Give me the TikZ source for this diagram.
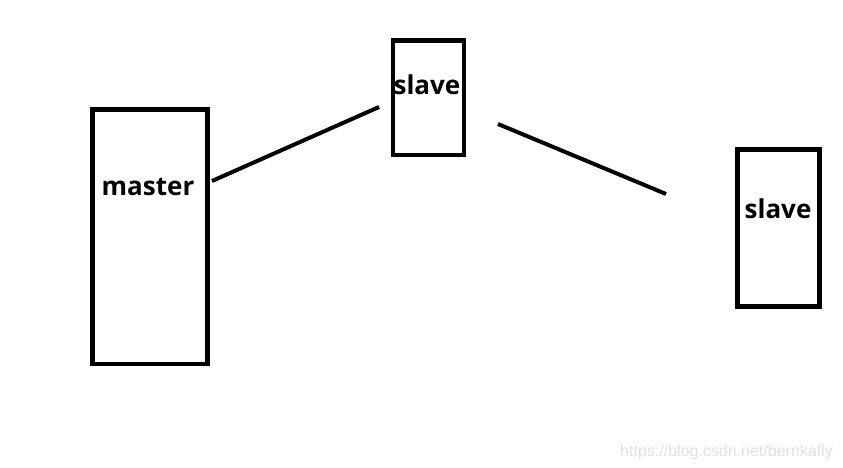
\documentclass[tikz,border=0pt]{standalone}
\usepackage{fontspec}
\setmainfont{Open Sans}
\newfontfamily\markfont{Liberation Sans}
\tikzset{
	box/.style = {draw, line width = 4.5pt, inner sep = 0pt, anchor = north west},
	lbl/.style = {font = \fontsize{26}{30}\selectfont\bfseries},
	wire/.style = {line width = 4pt}
}
\begin{document}
\begin{tikzpicture}[x = 1pt, y = -1pt]
	%	canvas
	\useasboundingbox (0, 0) rectangle (843, 468);
	
	%	boxes
	\node[box, minimum width = 115pt, minimum height = 254pt] (master) at (90, 107.5) {};
	\node[box, minimum width = 71pt, minimum height = 114pt] (slaveA) at (390.5, 38.5) {};
	\node[box, minimum width = 82pt, minimum height = 157pt] (slaveB) at (735, 147) {};
	
	%	labels
	\node[lbl] (masterlbl) at (148, 187) {master};
	\node[lbl] (slaveAlbl) at (427, 85) {slave};
	\node[lbl] (slaveBlbl) at (778, 209) {slave};
	
	%	lines
	\coordinate (m1) at (212, 181);
	\coordinate (s1) at (379, 107);
	\coordinate (s2) at (498, 124);
	\coordinate (s3) at (666, 194);
	\draw[wire] (m1) -- (s1);
	\draw[wire] (s2) -- (s3);
	
	%	watermark
	\node[text = black!12, font = \markfont\fontsize{16}{18}\selectfont, anchor = east, inner sep = 0pt] (mark) at (833, 452) {https://blog.csdn.net/bernkafly};
\end{tikzpicture}
\end{document}
